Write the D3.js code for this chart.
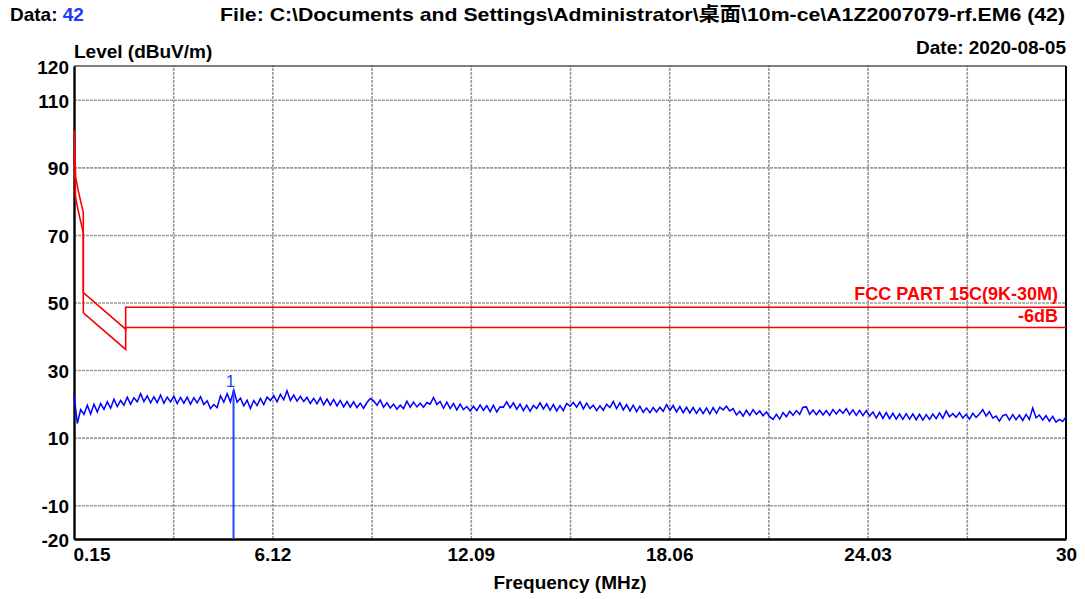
<!DOCTYPE html>
<html>
<head>
<meta charset="utf-8">
<script src="https://cdn.jsdelivr.net/npm/d3@7"></script>
<style>
  body { margin: 0; background: #fff; }
  svg { display: block; font-family: "Liberation Sans", Arial, "Noto Sans CJK SC", sans-serif; }
</style>
</head>
<body>
<svg id="plot"></svg>
<script>
// sweep 0.15 - 30 MHz, levels in dBuV/m
var sweepStart = 0.15,
    sweepStop = 30;
var levels = [
  22.6, 14.2, 18.3, 16.9, 19.6, 17.0, 19.9, 17.6, 20.1, 18.4,
  20.6, 18.7, 21.4, 19.2, 21.0, 19.6, 22.0, 19.9, 21.8, 20.6,
  23.0, 20.7, 22.4, 20.3, 22.1, 20.4, 22.6, 20.2, 22.0, 20.6,
  22.3, 20.1, 21.9, 20.2, 22.0, 19.9, 21.8, 20.3, 22.1, 19.8,
  20.9, 18.6, 19.8, 18.9, 22.4, 20.5, 23.0, 20.6, 24.1, 20.5,
  21.7, 19.4, 21.1, 18.6, 21.0, 19.5, 21.6, 19.8, 22.0, 21.0,
  22.4, 20.6, 22.8, 21.2, 23.9, 21.0, 22.6, 20.8, 22.2, 20.7,
  21.9, 20.1, 21.6, 20.0, 21.8, 19.7, 21.4, 19.6, 21.3, 19.4,
  21.0, 19.1, 20.7, 19.0, 20.6, 18.9, 20.2, 18.7, 20.4, 21.6,
  20.9, 19.6, 21.1, 19.0, 20.3, 18.8, 19.9, 18.4, 19.6, 18.6,
  20.8, 19.0, 20.5, 19.1, 20.2, 19.0, 20.4, 19.9, 21.9, 19.8,
  20.7, 18.7, 20.5, 18.6, 20.1, 18.2, 19.9, 18.3, 19.2, 17.9,
  19.3, 18.0, 19.7, 18.1, 19.5, 17.7, 19.6, 17.6, 19.1, 19.0,
  20.6, 18.8, 20.3, 18.4, 19.9, 18.0, 19.6, 17.8, 19.5, 18.6,
  20.3, 18.5, 20.0, 18.1, 19.8, 17.9, 19.5, 18.0, 20.1, 19.3,
  20.4, 19.0, 20.6, 18.5, 20.2, 18.6, 19.6, 18.0, 19.4, 18.1,
  19.9, 18.9, 20.7, 18.6, 20.3, 18.2, 19.8, 17.9, 19.6, 17.7,
  19.3, 17.5, 18.8, 17.4, 18.9, 17.6, 19.0, 17.8, 19.8, 18.1,
  19.5, 17.6, 19.2, 17.4, 19.0, 17.3, 18.9, 17.2, 18.7, 17.1,
  18.8, 17.0, 18.9, 17.2, 19.0, 18.2, 19.3, 17.9, 18.6, 16.7,
  17.8, 16.4, 18.1, 16.6, 18.3, 16.9, 17.9, 16.5, 17.6, 16.2,
  15.4, 16.9, 15.5, 17.4, 16.2, 17.8, 16.6, 18.0, 16.9, 19.0,
  19.1, 16.9, 18.2, 16.8, 18.1, 16.7, 18.0, 16.6, 18.3, 17.0,
  18.3, 17.2, 18.6, 16.8, 18.2, 16.6, 18.1, 16.5, 18.0, 16.4,
  17.6, 15.8, 17.5, 15.7, 17.4, 15.6, 17.2, 15.5, 17.0, 15.4,
  17.1, 15.5, 17.0, 15.3, 16.9, 15.2, 16.8, 15.4, 17.0, 15.6,
  17.3, 15.7, 17.9, 16.2, 17.1, 16.0, 17.4, 15.8, 16.9, 15.5,
  17.2, 16.0, 17.0, 18.3, 16.4, 17.7, 15.8, 16.4, 14.9, 16.5,
  16.9, 15.2, 16.8, 15.3, 16.7, 15.1, 16.9, 15.4, 18.8, 15.9,
  16.7, 15.2, 16.5, 14.9, 16.3, 14.6, 15.4, 14.8, 16.1
];

// FCC PART 15C(9K-30M) limit and the -6dB line
var limitFreq   = [0.15, 0.2, 0.27, 0.35, 0.43, 0.43, 1.705, 1.705, 30];
var limitLevel  = [101, 87, 83.5, 80, 76.6, 52.9, 42.1, 48.6, 48.6];
var limit6Level = [95, 81, 77.5, 74, 70.6, 46.9, 36.1, 42.6, 42.6];

// marker 1
var markerFreq = 4.95,
    markerLevel = 24.1;

var yTicks = [120, 110, 90, 70, 50, 30, 10, -10, -20];
var yGrid = [110, 90, 70, 50, 30, 10, -10];
var xTicks = [0.15, 6.12, 12.09, 18.06, 24.03, 30];
var xGrid = [3.135, 6.12, 9.105, 12.09, 15.075, 18.06, 21.045, 24.03, 27.015];

var width = 1085, height = 599;
var margin = {top: 66, right: 19, bottom: 60, left: 74};

var svg = d3.select("#plot")
    .attr("width", width)
    .attr("height", height);

var xScale = d3.scaleLinear()
    .domain([sweepStart, sweepStop])
    .range([margin.left, width - margin.right]);
var yScale = d3.scaleLinear()
    .domain([-20, 120])
    .range([height - margin.bottom, margin.top]);

var plotH = height - margin.bottom - margin.top,
    plotW = width - margin.right - margin.left;

// grid
svg.append("g")
    .attr("transform", "translate(0," + (height - margin.bottom) + ")")
    .call(d3.axisBottom(xScale).tickValues(xGrid).tickSize(-plotH).tickFormat(""))
    .call(g => g.select(".domain").remove())
    .call(g => g.selectAll("line")
      .attr("stroke", "#9a9a9a")
      .attr("stroke-width", 1.6)
      .attr("stroke-dasharray", "3,1"));
svg.append("g")
    .attr("transform", "translate(" + margin.left + ",0)")
    .call(d3.axisLeft(yScale).tickValues(yGrid).tickSize(-plotW).tickFormat(""))
    .call(g => g.select(".domain").remove())
    .call(g => g.selectAll("line")
      .attr("stroke", "#9a9a9a")
      .attr("stroke-width", 1.6)
      .attr("stroke-dasharray", "3,1"));

// frame
svg.append("line")
    .attr("x1", margin.left).attr("x2", width - margin.right)
    .attr("y1", margin.top).attr("y2", margin.top)
    .attr("stroke", "#000").attr("stroke-width", 1.2);
svg.append("line")
    .attr("x1", width - margin.right).attr("x2", width - margin.right)
    .attr("y1", margin.top).attr("y2", height - margin.bottom)
    .attr("stroke", "#000").attr("stroke-width", 2);

// left / bottom axes
var xAxis = svg.append("g")
    .attr("transform", "translate(0," + (height - margin.bottom) + ")")
    .call(d3.axisBottom(xScale).tickValues(xTicks).tickSize(0).tickPadding(9)
      .tickFormat(d => d3.format(".2f")(d).replace(/\.00$/, "")));
xAxis.select(".domain").attr("stroke", "#000").attr("stroke-width", 2.4);
xAxis.selectAll("text")
    .attr("font-size", 19)
    .attr("font-weight", "bold")
    .attr("fill", "#000")
    .attr("font-family", null)
    .attr("text-anchor", d => d == sweepStart ? "start" : "middle")
    .attr("dx", d => d == sweepStart ? -1 : 0);

var yAxis = svg.append("g")
    .attr("transform", "translate(" + margin.left + ",0)")
    .call(d3.axisLeft(yScale).tickValues(yTicks).tickSize(0).tickPadding(5)
      .tickFormat(d => String(d)));
yAxis.select(".domain").attr("stroke", "#000").attr("stroke-width", 2.4);
yAxis.selectAll("text")
    .attr("font-size", 19)
    .attr("font-weight", "bold")
    .attr("fill", "#000")
    .attr("font-family", null)
    .attr("dy", "0.38em");

// limit lines
var line = d3.line()
    .x(d => xScale(d[0]))
    .y(d => yScale(d[1]));

svg.append("path")
    .datum(limitFreq.map((f, i) => [f, limitLevel[i]]))
    .attr("fill", "none")
    .attr("stroke", "#ff0000")
    .attr("stroke-width", 1.6)
    .attr("d", line);
svg.append("path")
    .datum(limitFreq.map((f, i) => [f, limit6Level[i]]))
    .attr("fill", "none")
    .attr("stroke", "#ff0000")
    .attr("stroke-width", 1.6)
    .attr("d", line);

// trace
var trace = levels.map(function(v, i) {
  return [sweepStart + i * (sweepStop - sweepStart) / (levels.length - 1), v];
});
svg.append("path")
    .datum(trace)
    .attr("fill", "none")
    .attr("stroke", "#0000ff")
    .attr("stroke-width", 1.5)
    .attr("d", line);

// marker
svg.append("line")
    .attr("x1", xScale(markerFreq)).attr("x2", xScale(markerFreq))
    .attr("y1", yScale(markerLevel)).attr("y2", height - margin.bottom)
    .attr("stroke", "#2244ff").attr("stroke-width", 2);
svg.append("text")
    .attr("x", xScale(markerFreq) - 3)
    .attr("y", yScale(markerLevel) - 3)
    .attr("text-anchor", "middle")
    .attr("fill", "#2244ff")
    .attr("font-size", 17)
    .text("1");

// limit labels
svg.append("text")
    .attr("x", width - margin.right - 8)
    .attr("y", yScale(limitLevel[limitLevel.length - 1]) - 7)
    .attr("text-anchor", "end")
    .attr("fill", "#ff0000")
    .attr("font-size", 18)
    .attr("font-weight", "bold")
    .text("FCC PART 15C(9K-30M)");
svg.append("text")
    .attr("x", width - margin.right - 8)
    .attr("y", yScale(limitLevel[limitLevel.length - 1]) + 15)
    .attr("text-anchor", "end")
    .attr("fill", "#ff0000")
    .attr("font-size", 18)
    .attr("font-weight", "bold")
    .text("-6dB");

// header + axis titles
var head = svg.append("text")
    .attr("x", 10).attr("y", 21)
    .attr("font-size", 19)
    .attr("font-weight", "bold");
head.append("tspan").text("Data: ");
head.append("tspan").attr("fill", "#1a3cff").text("42");

svg.append("text")
    .attr("x", 220).attr("y", 21)
    .attr("font-size", 19)
    .attr("font-weight", "bold")
    .attr("textLength", 845)
    .attr("lengthAdjust", "spacingAndGlyphs")
    .text("File: C:\\Documents and Settings\\Administrator\\桌面\\10m-ce\\A1Z2007079-rf.EM6  (42)");

svg.append("text")
    .attr("x", margin.left).attr("y", 58)
    .attr("font-size", 19)
    .attr("font-weight", "bold")
    .text("Level (dBuV/m)");

svg.append("text")
    .attr("x", width - margin.right).attr("y", 54)
    .attr("text-anchor", "end")
    .attr("font-size", 19)
    .attr("font-weight", "bold")
    .text("Date: 2020-08-05");

svg.append("text")
    .attr("x", (margin.left + width - margin.right) / 2)
    .attr("y", 589)
    .attr("text-anchor", "middle")
    .attr("font-size", 19)
    .attr("font-weight", "bold")
    .text("Frequency (MHz)");
</script>
</body>
</html>
